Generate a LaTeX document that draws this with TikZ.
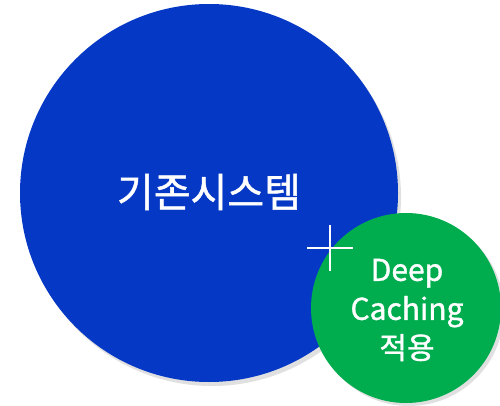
\documentclass[tikz,border=0pt]{standalone}
\usepackage{fontspec}
\newfontfamily\krfont[FakeBold=1.2]{Noto Sans CJK KR}
\definecolor{bigblue}{RGB}{6,56,198}
\definecolor{smallgreen}{RGB}{0,173,78}
\begin{document}
\begin{tikzpicture}[x=1pt,y=-1pt,
  shade/.style={fill=black,opacity=0.12},
  bubble/.style={circle,inner sep=0pt,text=white,align=center,font=\krfont}]
\useasboundingbox (0,0) rectangle (500,406);
% shadows
\fill[shade] (212,197) circle (189);
\fill[shade] (409,311) circle (95);
% big circle
\node[bubble,fill=bigblue,minimum size=378pt] (old) at (209,193) {};
\node[text=white,font=\krfont\fontsize{40}{44}\selectfont] (oldtxt) at (209,192) {기존시스템};
% small circle
\node[bubble,fill=smallgreen,minimum size=190pt] (new) at (406,308) {};
\node[text=white,align=center,font=\krfont\fontsize{30}{39}\selectfont] (newtxt) at (407,310) {Deep\\Caching\\적용};
% plus sign
\coordinate (ph1) at (307,248);
\coordinate (ph2) at (353,248);
\coordinate (pv1) at (330,225);
\coordinate (pv2) at (330,271);
\draw[white,line width=2.5pt] (ph1) -- (ph2) (pv1) -- (pv2);
\end{tikzpicture}
\end{document}
